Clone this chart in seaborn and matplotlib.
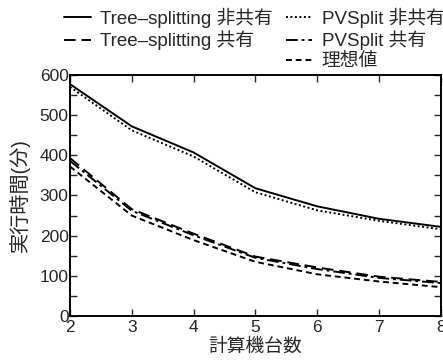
import numpy as np
import pandas as pd
import seaborn as sns
import matplotlib
matplotlib.use("Agg")
import matplotlib.pyplot as plt
from matplotlib.lines import Line2D
from matplotlib.ticker import MultipleLocator

x_vals = [2, 3, 4, 5, 6, 7, 8]
tree_nonshared = [577, 472, 407, 318, 273, 242, 222]
pv_nonshared = [570, 462, 397, 308, 263, 237, 216]
tree_shared = [393, 266, 205, 148, 121, 98, 85]
pv_shared = [386, 262, 201, 145, 117, 95, 82]
ideal = [372, 250, 189, 135, 104, 86, 72]
labels = ["Tree\u2013splitting 非共有", "PVSplit 非共有", "Tree\u2013splitting 共有", "PVSplit 共有", "理想値"]
series = [tree_nonshared, pv_nonshared, tree_shared, pv_shared, ideal]
dashes = ["", (1, 1.3), (6, 3), (6, 2, 1.5, 2), (3, 2)]

sns.set_style("ticks")
plt.rcParams['font.family'] = ['Liberation Sans', 'Noto Sans CJK JP', 'DejaVu Sans']

df = pd.DataFrame({
    "x": np.tile(x_vals, len(labels)),
    "y": np.concatenate(series),
    "s": np.repeat(labels, len(x_vals)),
})

fig = plt.figure(figsize=(4.43, 3.6), dpi=100)
ax = fig.add_axes([0.158, 0.122, 0.837, 0.670])
sns.lineplot(data=df, x="x", y="y", hue="s", style="s", hue_order=labels, style_order=labels,
             palette=["black"] * 5, dashes=dict(zip(labels, dashes)), linewidth=1.4,
             legend=False, ax=ax)

ax.set_xlim(2, 8)
ax.set_ylim(0, 600)
ax.set_xticks(range(2, 9))
ax.set_yticks(range(0, 601, 100))
ax.yaxis.set_minor_locator(MultipleLocator(50))
ax.tick_params(axis="both", which="both", direction="in", top=True, right=True,
               labelsize=12.5, pad=1, width=1.0)
ax.tick_params(axis="both", which="major", length=5)
ax.tick_params(axis="y", which="minor", length=5)
ax.tick_params(axis="x", which="major", pad=3)
for sp in ax.spines.values():
    sp.set_linewidth(1.4)
    sp.set_color("black")
ax.set_xlabel("計算機台数", fontsize=13.5, labelpad=2)
ax.set_ylabel("実行時間(分)", fontsize=14.5, labelpad=7)

handles = [Line2D([], [], color="black", lw=1.4, linestyle=(0, d) if d else "-") for d in dashes]
blank = Line2D([], [], color="none")
order_h = [handles[0], handles[2], blank, handles[1], handles[3], handles[4]]
order_l = [labels[0], labels[2], "", labels[1], labels[3], labels[4]]
fig.legend(order_h, order_l, loc="upper left", bbox_to_anchor=(0.12, 1.01), ncol=2,
           frameon=False, fontsize=13.5, handlelength=1.4, handletextpad=0.5,
           columnspacing=0.7, labelspacing=0.15, borderaxespad=0.2)

fig.savefig("out.png", dpi=100)
